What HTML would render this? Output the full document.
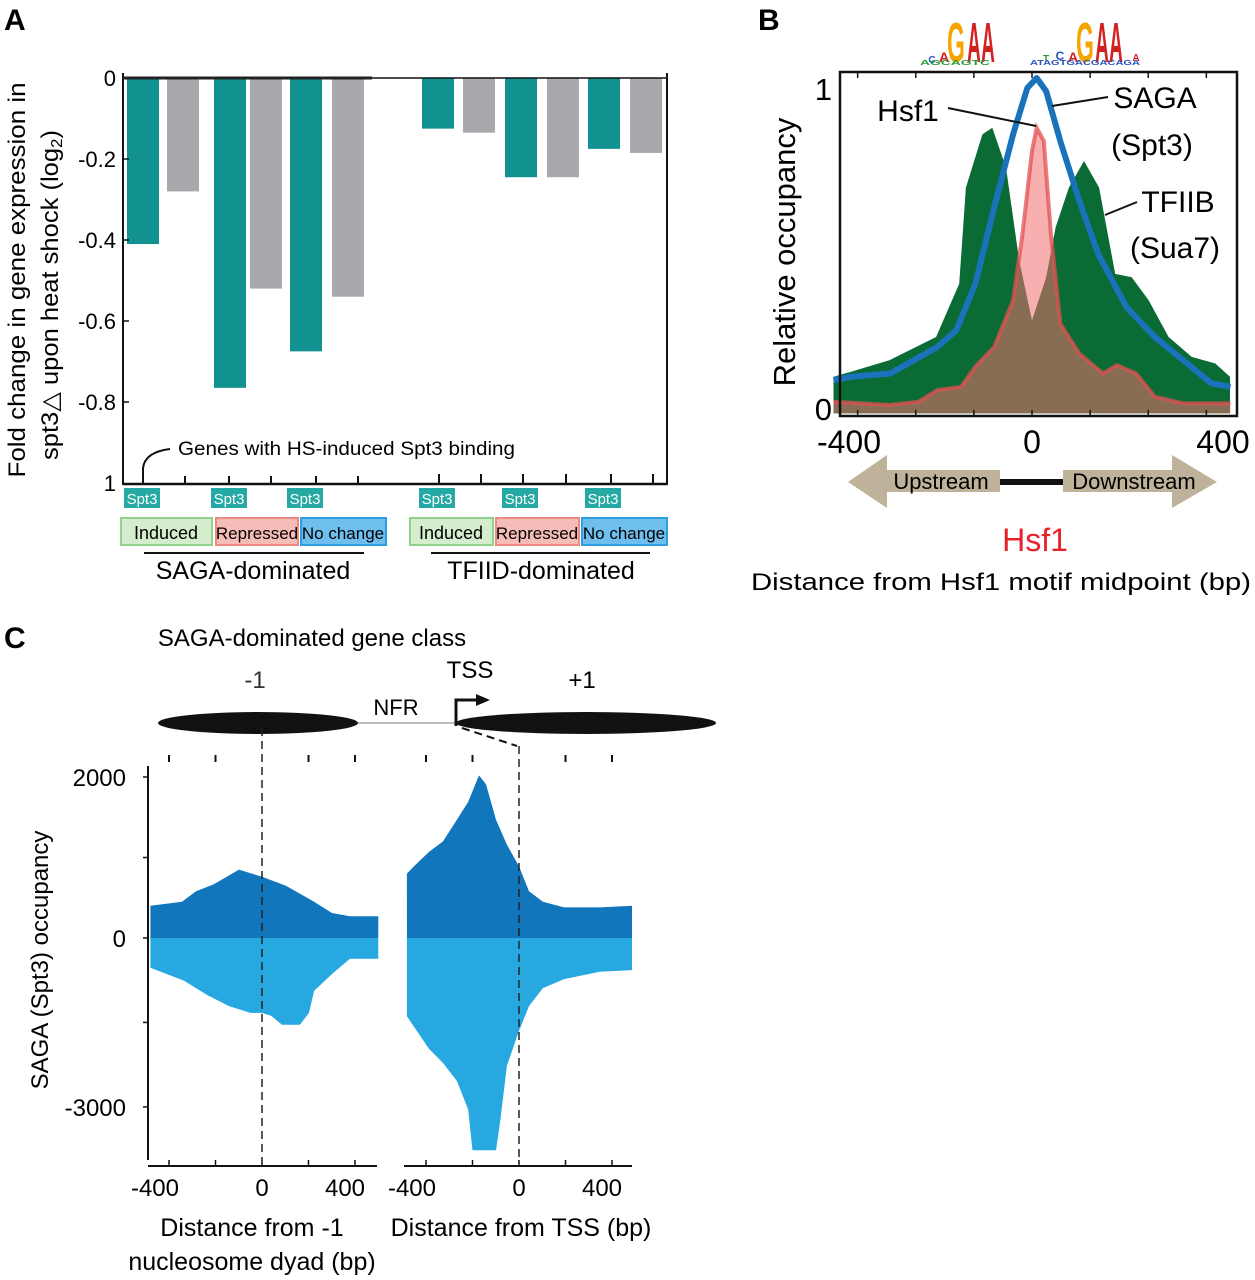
<!DOCTYPE html>
<html><head><meta charset="utf-8"><style>
html,body{margin:0;padding:0;background:#fff;}
svg{display:block;font-family:"Liberation Sans",sans-serif;}
</style></head><body>
<svg id="fig" width="1255" height="1280" viewBox="0 0 1255 1280" xmlns="http://www.w3.org/2000/svg">
<text x="4" y="30" font-size="30" font-weight="bold">A</text>
<text x="758" y="30" font-size="30" font-weight="bold">B</text>
<text x="4" y="648" font-size="30" font-weight="bold">C</text>

<!-- Panel A static -->
<g id="panelA">
<g font-size="24" transform="rotate(-90)" text-anchor="middle">
<text x="-280" y="25" textLength="395" lengthAdjust="spacingAndGlyphs">Fold change in gene expression in</text>
<text x="-295" y="58" textLength="330" lengthAdjust="spacingAndGlyphs">spt3△ upon heat shock (log<tspan font-size="16" dy="4">2</tspan><tspan dy="-4">)</tspan></text>
</g>
<g id="aBars"></g>
<g id="aTicks" font-size="22" text-anchor="end"></g>
<line x1="123" y1="73" x2="123" y2="485" stroke="#111" stroke-width="2"/>
<line x1="667" y1="73" x2="667" y2="485" stroke="#111" stroke-width="2"/>
<line x1="123" y1="78" x2="667" y2="78" stroke="#111" stroke-width="1.5"/>
<line x1="123" y1="78" x2="372" y2="78" stroke="#222" stroke-width="3"/>
<line x1="123" y1="484" x2="667" y2="484" stroke="#111" stroke-width="2.5"/>
<g stroke="#111" stroke-width="2">
<line x1="185" y1="476" x2="185" y2="484"/><line x1="229" y1="476" x2="229" y2="484"/><line x1="271" y1="476" x2="271" y2="484"/><line x1="316" y1="476" x2="316" y2="484"/><line x1="358" y1="476" x2="358" y2="484"/><line x1="439" y1="474" x2="439" y2="484"/><line x1="481" y1="474" x2="481" y2="484"/><line x1="523" y1="474" x2="523" y2="484"/><line x1="566" y1="474" x2="566" y2="484"/><line x1="611" y1="474" x2="611" y2="484"/><line x1="653" y1="474" x2="653" y2="484"/>
</g>
<path d="M143 484 L143 468 Q145 452 170 449" fill="none" stroke="#111" stroke-width="2"/>
<text x="178" y="455" font-size="19" textLength="337" lengthAdjust="spacingAndGlyphs">Genes with HS-induced Spt3 binding</text>
<g id="spt3Tags" font-size="15" fill="#fff" text-anchor="middle"></g>
<g font-size="18" text-anchor="middle">
<rect x="121" y="518" width="91" height="27" fill="#d4edcd" stroke="#92d18a" stroke-width="2"/><text x="166" y="539">Induced</text>
<rect x="216" y="518" width="82" height="27" fill="#f6bdb8" stroke="#ee8a83" stroke-width="2"/><text x="257" y="539" font-size="17">Repressed</text>
<rect x="301" y="518" width="85" height="27" fill="#6fbfee" stroke="#2b9fe0" stroke-width="2"/><text x="343" y="539" font-size="17">No change</text>
<rect x="410" y="518" width="83" height="27" fill="#d4edcd" stroke="#92d18a" stroke-width="2"/><text x="451" y="539">Induced</text>
<rect x="496" y="518" width="83" height="27" fill="#f6bdb8" stroke="#ee8a83" stroke-width="2"/><text x="537" y="539" font-size="17">Repressed</text>
<rect x="582" y="518" width="85" height="27" fill="#6fbfee" stroke="#2b9fe0" stroke-width="2"/><text x="624" y="539" font-size="17">No change</text>
</g>
<line x1="144" y1="553" x2="364" y2="553" stroke="#111" stroke-width="2"/>
<line x1="431" y1="553" x2="650" y2="553" stroke="#111" stroke-width="2"/>
<text x="253" y="579" font-size="25" text-anchor="middle">SAGA-dominated</text>
<text x="541" y="579" font-size="25" text-anchor="middle">TFIID-dominated</text>
</g>

<!-- Panel B -->
<g id="panelB">
<g id="logo" font-weight="bold" text-anchor="middle">
<text x="932" y="63" font-size="10" fill="#2a52be">C</text>
<text x="944" y="62" font-size="14" fill="#d42020">A</text>
<text x="956" y="62" font-size="38" fill="#f5a500" transform="translate(956 62) scale(0.6 1.5) translate(-956 -62)">G</text>
<text x="974" y="62" font-size="38" fill="#d42020" transform="translate(974 62) scale(0.5 1.5) translate(-974 -62)">A</text>
<text x="988" y="62" font-size="38" fill="#d42020" transform="translate(988 62) scale(0.5 1.5) translate(-988 -62)">A</text>
<text x="955" y="65" font-size="7" fill="#2a9a3a" textLength="70" lengthAdjust="spacingAndGlyphs">AGCAGTC</text>
<text x="1046" y="62" font-size="10" fill="#2a9a3a">T</text>
<text x="1060" y="60" font-size="12" fill="#2a52be">C</text>
<text x="1073" y="62" font-size="14" fill="#d42020">A</text>
<text x="1085" y="62" font-size="38" fill="#f5a500" transform="translate(1085 62) scale(0.6 1.5) translate(-1085 -62)">G</text>
<text x="1102" y="62" font-size="38" fill="#d42020" transform="translate(1102 62) scale(0.5 1.5) translate(-1102 -62)">A</text>
<text x="1116" y="62" font-size="38" fill="#d42020" transform="translate(1116 62) scale(0.5 1.5) translate(-1116 -62)">A</text>
<text x="1136" y="61" font-size="10" fill="#d42020">A</text>
<text x="1085" y="65" font-size="7" fill="#2a52be" textLength="110" lengthAdjust="spacingAndGlyphs">ATAGTGACGACAGA</text>
</g>
<g id="bMarks"></g>
<rect x="840" y="72" width="397" height="344" fill="none" stroke="#111" stroke-width="2.5"/>
<g id="bTicks"></g>
<text x="795" y="252" font-size="31" text-anchor="middle" transform="rotate(-90 795 252)">Relative occupancy</text>
<text x="832" y="100" font-size="31" text-anchor="end">1</text>
<text x="832" y="420" font-size="31" text-anchor="end">0</text>
<line x1="948" y1="108" x2="1036" y2="126" stroke="#111" stroke-width="2"/>
<text x="908" y="121" font-size="30" text-anchor="middle">Hsf1</text>
<line x1="1052" y1="106" x2="1108" y2="97" stroke="#111" stroke-width="2"/>
<text x="1155" y="108" font-size="30" text-anchor="middle">SAGA</text>
<text x="1152" y="155" font-size="30" text-anchor="middle">(Spt3)</text>
<line x1="1105" y1="215" x2="1137" y2="202" stroke="#111" stroke-width="2"/>
<text x="1178" y="212" font-size="30" text-anchor="middle">TFIIB</text>
<text x="1175" y="258" font-size="30" text-anchor="middle">(Sua7)</text>
<path d="M848 482 L887 455 L887 470 L1000 470 L1000 492 L887 492 L887 508 Z" fill="#bfb29b"/>
<path d="M1217 482 L1172 455 L1172 470 L1063 470 L1063 492 L1172 492 L1172 508 Z" fill="#bfb29b"/>
<line x1="1000" y1="482" x2="1063" y2="482" stroke="#111" stroke-width="6"/>
<text x="941" y="489" font-size="22" text-anchor="middle">Upstream</text>
<text x="1134" y="489" font-size="22" text-anchor="middle">Downstream</text>
<text x="1035" y="551" font-size="32" fill="#e8202a" text-anchor="middle">Hsf1</text>
<text x="1001" y="590" font-size="24" text-anchor="middle" textLength="500" lengthAdjust="spacingAndGlyphs">Distance from Hsf1 motif midpoint (bp)</text>
</g>

<!-- Panel C -->
<g id="panelC">
<text x="312" y="646" font-size="24" text-anchor="middle">SAGA-dominated gene class</text>
<text x="255" y="688" font-size="24" fill="#333" text-anchor="middle">-1</text>
<text x="470" y="678" font-size="24" text-anchor="middle">TSS</text>
<text x="582" y="688" font-size="24" text-anchor="middle">+1</text>
<text x="396" y="715" font-size="22" text-anchor="middle">NFR</text>
<line x1="355" y1="723" x2="458" y2="723" stroke="#bbb" stroke-width="2"/>
<ellipse cx="258" cy="723" rx="100" ry="11" fill="#111"/>
<ellipse cx="586" cy="723" rx="130" ry="11" fill="#111"/>
<path d="M456 726 L456 700 L478 700" fill="none" stroke="#111" stroke-width="3"/>
<path d="M476 694 L490 700 L476 706 Z" fill="#111"/>
<path d="M462 728 L517 746" fill="none" stroke="#111" stroke-width="2" stroke-dasharray="8,5"/>
<g id="cMarks"></g>
<line x1="262" y1="728" x2="262" y2="1160" stroke="#222" stroke-width="1.5" stroke-dasharray="8,5"/>
<line x1="519" y1="746" x2="519" y2="1160" stroke="#222" stroke-width="1.5" stroke-dasharray="8,5"/>
<g id="cAxes"></g>
<text x="48" y="960" font-size="24" text-anchor="middle" transform="rotate(-90 48 960)">SAGA (Spt3) occupancy</text>
<text x="252" y="1236" font-size="25" text-anchor="middle">Distance from -1</text>
<text x="252" y="1270" font-size="25" text-anchor="middle">nucleosome dyad (bp)</text>
<text x="521" y="1236" font-size="25" text-anchor="middle">Distance from TSS (bp)</text>
</g>
</svg>
<script>
// ---------- Panel A data ----------
const aCategories = ["SAGA Induced Spt3","SAGA Induced","SAGA Repressed Spt3","SAGA Repressed","SAGA NoChange Spt3","SAGA NoChange","TFIID Induced Spt3","TFIID Induced","TFIID Repressed Spt3","TFIID Repressed","TFIID NoChange Spt3","TFIID NoChange"];
const aValues = [-0.41,-0.28,-0.765,-0.52,-0.675,-0.54,-0.125,-0.135,-0.245,-0.245,-0.175,-0.185];
const aIsSpt3 = [1,0,1,0,1,0,1,0,1,0,1,0];
const aTickValues = [0,-0.2,-0.4,-0.6,-0.8,-1];
const aTickLabels = ["0","-0.2","-0.4","-0.6","-0.8","1"];
// ---------- Panel B data ----------
const bTfiibX = [-420,-383,-302,-203,-154,-140,-105,-84,-55,-27,0,30,50,78,110,142,176,211,247,289,338,388,419];
const bTfiibY = [0.10,0.115,0.15,0.22,0.38,0.67,0.83,0.85,0.73,0.45,0.27,0.40,0.55,0.67,0.75,0.67,0.41,0.40,0.33,0.22,0.16,0.14,0.10];
const bSagaX = [-420,-383,-300,-200,-160,-120,-80,-40,-10,10,30,60,100,140,200,260,320,380,420];
const bSagaY = [0.09,0.10,0.11,0.19,0.24,0.38,0.61,0.83,0.97,1.0,0.96,0.81,0.63,0.47,0.31,0.22,0.15,0.08,0.07];
const bHsf1X = [-420,-300,-240,-200,-150,-120,-80,-40,-20,0,10,25,40,60,100,150,180,220,260,320,420];
const bHsf1Y = [0.025,0.015,0.025,0.06,0.07,0.13,0.19,0.33,0.53,0.78,0.85,0.81,0.53,0.26,0.17,0.11,0.135,0.11,0.04,0.02,0.02];
const bXTickLabels = ["-400","0","400"];
const bXTickLabelValues = [-400,0,400];
const bXTickMarks = [-369,-246,-123,0,123,246,369];
// ---------- Panel C data ----------
const cLeftX = [-480,-344,-284,-206,-99,0,103,224,301,378,500];
const cLeftUp = [400,450,580,670,850,760,650,450,310,270,270];
const cLeftLowX = [-480,-335,-237,-142,-50,0,39,86,163,202,224,301,378,500];
const cLeftLow = [-530,-760,-1010,-1210,-1330,-1330,-1380,-1540,-1540,-1330,-940,-640,-370,-370];
const cRightX = [-482,-452,-387,-327,-267,-219,-172,-142,-99,-52,0,43,103,194,348,486];
const cRightUp = [800,890,1070,1200,1470,1690,2020,1910,1470,1160,890,580,450,380,380,400];
const cRightLowX = [-482,-387,-327,-267,-219,-200,-99,-80,-52,0,43,103,194,348,486];
const cRightLow = [-1390,-1970,-2220,-2540,-3040,-3770,-3770,-3230,-2270,-1650,-1210,-890,-730,-600,-570];
const cYTickValues = [2000,1000,0,-1500,-3000];
const cYTickLabels = ["2000","","0","","-3000"];
const cXTickMarks = [-400,-200,0,200,400];
const cXTickLabels = ["-400","0","400"];
const cXTickLabelValues = [-400,0,400];

const NS="http://www.w3.org/2000/svg";
function mk(tag, attrs, parent){const e=document.createElementNS(NS,tag);for(const k in attrs)e.setAttribute(k,attrs[k]);parent.appendChild(e);return e;}

// Panel A
const aY = v => 78 + (-v)*405;
const aBarX = [127,167,214,250,290,332,422,463,505,547,588,630];
const aBarW = 32;
const aBars=document.getElementById('aBars');
aValues.forEach((v,i)=>{
  const r=mk('rect',{x:aBarX[i],y:aY(0),width:aBarW,height:aY(v)-aY(0),fill:aIsSpt3[i]?'#11918f':'#a7a9ac'},aBars);
  
  
});
const aTicks=document.getElementById('aTicks');
aTickValues.forEach((v,i)=>{
  const t=mk('text',{x:116,y:aY(v)+8},aTicks); t.textContent=aTickLabels[i];
  
  
  if(i>0&&i<5){const l=mk('line',{x1:123,y1:aY(v),x2:129,y2:aY(v),stroke:'#111','stroke-width':1.5},aTicks);
  
  }
});
const spt=document.getElementById('spt3Tags');
aIsSpt3.forEach((s,i)=>{ if(!s) return;
  const cx=aBarX[i]+aBarW/2 - 1;
  const r=mk('rect',{x:cx-18,y:488,width:36,height:20,fill:'#26a9a4'},spt);
  
  
  const t=mk('text',{x:cx,y:504},spt); t.textContent='Spt3';
  
  
});

// Panel B
const bX = v => 1032 + v*0.4725;
const bY = v => 410 - v*332;
const bM=document.getElementById('bMarks');
function areaPath(xs,ys,sx,sy,base){let d='M'+sx(xs[0])+' '+sy(base);xs.forEach((x,i)=>d+=' L'+sx(x).toFixed(1)+' '+sy(ys[i]).toFixed(1));d+=' L'+sx(xs[xs.length-1])+' '+sy(base)+' Z';return d;}
function linePath(xs,ys,sx,sy){return xs.map((x,i)=>(i?'L':'M')+sx(x).toFixed(1)+' '+sy(ys[i]).toFixed(1)).join(' ');}
let p=mk('path',{d:areaPath(bTfiibX,bTfiibY,bX,bY,-0.01),fill:'#0b6b35'},bM);


p=mk('path',{d:areaPath(bHsf1X,bHsf1Y,bX,bY,-0.01),fill:'rgba(240,110,110,0.55)'},bM);


p=mk('path',{d:linePath(bHsf1X,bHsf1Y,bX,bY),fill:'none',stroke:'rgba(225,80,80,0.75)','stroke-width':4},bM);


p=mk('path',{d:linePath(bSagaX,bSagaY,bX,bY),fill:'none',stroke:'#1a72bb','stroke-width':6,'stroke-linejoin':'round'},bM);


const bT=document.getElementById('bTicks');
bXTickMarks.forEach(v=>{
  const l=mk('line',{x1:bX(v),y1:416,x2:bX(v),y2:410,stroke:'#111','stroke-width':1.5},bT);
  
  
  const l2=mk('line',{x1:bX(v),y1:72,x2:bX(v),y2:78,stroke:'#111','stroke-width':1.5},bT);
  
  
});
bXTickLabelValues.forEach((v,i)=>{
  const t=mk('text',{x:bX(v)+(i==0?6:(i==2?2:0)),y:453,'font-size':32,'text-anchor':'middle'},bT); t.textContent=bXTickLabels[i];
  
  
});

// Panel C
const cY = v => v>=0 ? 938 - v*0.0805 : 938 - v*0.0563;
const cXL = v => 262 + v*0.2325;
const cXR = v => 519 + v*0.2325;
const cM=document.getElementById('cMarks');
[[cLeftX,cLeftUp,cXL,'#1176bc','left-upper-area'],[cLeftLowX,cLeftLow,cXL,'#27a8e0','left-lower-area'],[cRightX,cRightUp,cXR,'#1176bc','right-upper-area'],[cRightLowX,cRightLow,cXR,'#27a8e0','right-lower-area']].forEach(s=>{
  const e=mk('path',{d:areaPath(s[0],s[1],s[2],cY,0),fill:s[3]},cM);
  
  
});
const cA=document.getElementById('cAxes');
let ax=mk('line',{x1:148,y1:766,x2:148,y2:1160,stroke:'#111','stroke-width':2},cA);


cYTickValues.forEach((v,i)=>{
  const l=mk('line',{x1:143,y1:cY(v),x2:148,y2:cY(v),stroke:'#111','stroke-width':1.5},cA);
  
  
  if(cYTickLabels[i]){const t=mk('text',{x:126,y:cY(v)+9,'font-size':24,'text-anchor':'end'},cA);t.textContent=cYTickLabels[i];
  
  }
});
[[cXL,148,377,'left'],[cXR,404,632,'right']].forEach(s=>{
  const a=mk('line',{x1:s[1],y1:1166,x2:s[2],y2:1166,stroke:'#111','stroke-width':2},cA);
  
  
  cXTickMarks.forEach(v=>{
    const l=mk('line',{x1:s[0](v),y1:1160,x2:s[0](v),y2:1166,stroke:'#111','stroke-width':1.5},cA);
    
    
    if(v!==0){const l2=mk('line',{x1:s[0](v),y1:755,x2:s[0](v),y2:762,stroke:'#111','stroke-width':2},cA);
    
    }
  });
  cXTickLabelValues.forEach((v,i)=>{
    const t=mk('text',{x:s[0](v)+(i==0?-14:(i==2?-10:0)),y:1196,'font-size':24,'text-anchor':'middle'},cA);t.textContent=cXTickLabels[i];
    
    
  });
});
</script>
</body></html>
